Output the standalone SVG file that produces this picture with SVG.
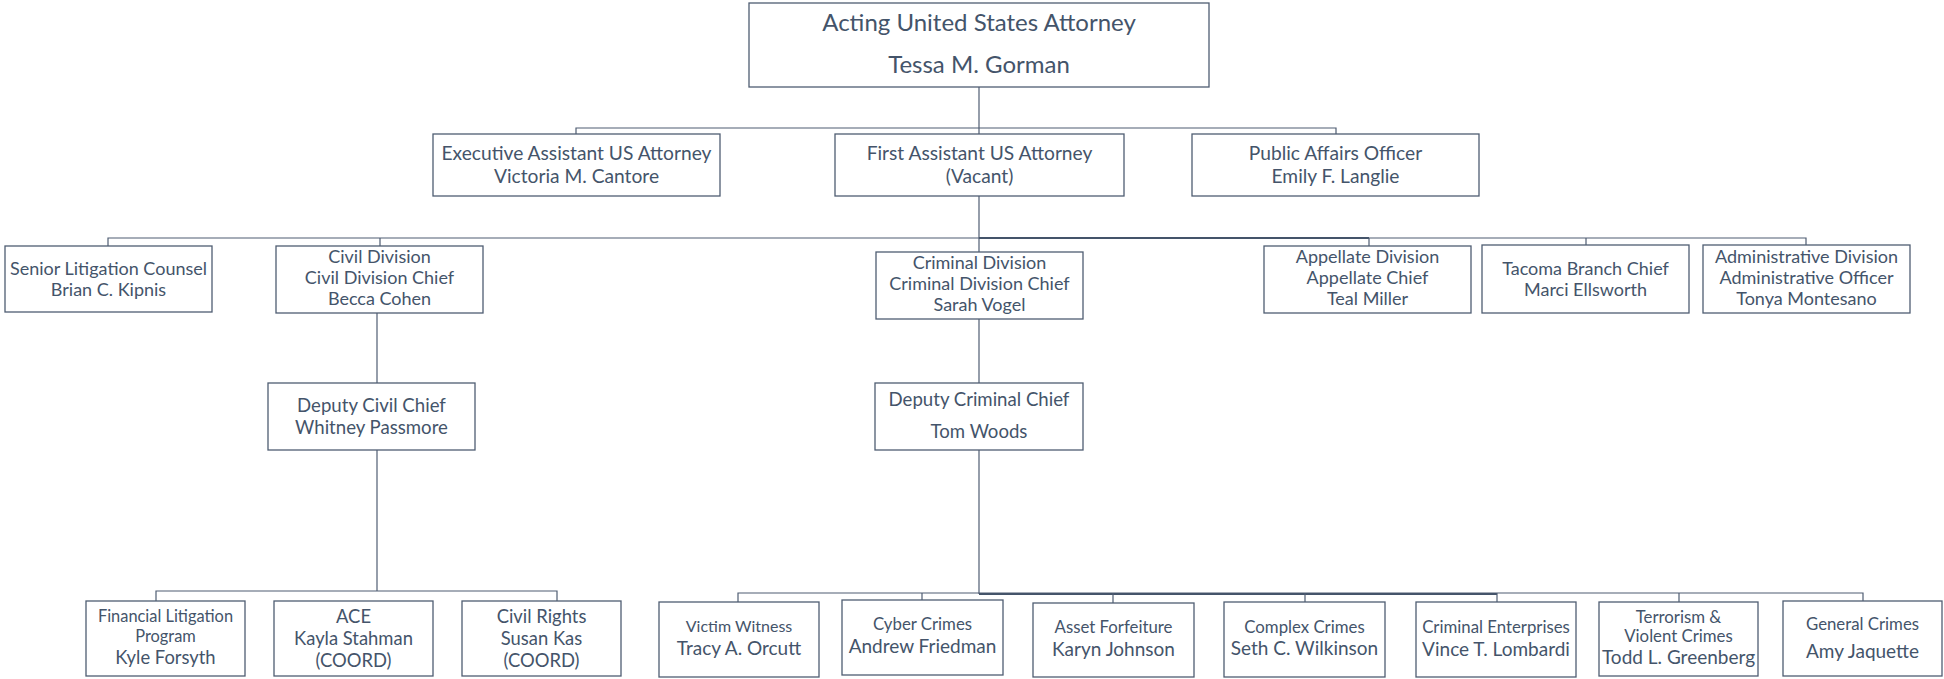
<svg xmlns="http://www.w3.org/2000/svg" width="1944" height="679" viewBox="0 0 1944 679">
<defs>
<style>
.box{fill:#ffffff;stroke:#4f5d72;stroke-width:1.3}
.t{font-family:Lato,"Liberation Sans",sans-serif;fill:#44546a;text-anchor:middle}
.s24{font-size:24px}
.s19{font-size:19.2px}
.s18{font-size:18px}
.sd{font-size:18.6px}
.st{font-size:16.8px}
.sn{font-size:19px}
.sc{font-size:18.4px}
.c{fill:none;stroke:#4f5d72;stroke-width:1.2}
.ck{fill:none;stroke:#44546a;stroke-width:2.2}
</style>
</defs>
<rect width="1944" height="679" fill="#ffffff"/>
<g id="connectors">
<path class="c" d="M979 87V134"/>
<path class="c" d="M576 134V128H1336V134"/>
<path class="c" d="M979 196V252"/>
<path class="c" d="M108 246V238H1806V245"/>
<path class="ck" d="M979 238H1369"/>
<path class="c" d="M380 238V246M1369 238V246M1586 238V245"/>
<path class="c" d="M377 313V383"/>
<path class="c" d="M979 319V383"/>
<path class="c" d="M377 450V591"/>
<path class="c" d="M156 601V591H557V601"/>
<path class="c" d="M979 450V594"/>
<path class="c" d="M738 602V593H1863V601"/>
<path class="ck" d="M979 594H1497"/>
<path class="c" d="M922 593V600M1113 593V603M1305 593V602M1497 593V602M1679 593V602"/>
</g>
<g id="n-usa"><rect class="box" x="749" y="3" width="460" height="84"/>
<text class="t s24" x="979" y="31">Acting United States Attorney</text>
<text class="t s24" x="979" y="73">Tessa M. Gorman</text></g>
<g id="n-exec"><rect class="box" x="433" y="134" width="287" height="62"/>
<text class="t s19" x="576.5" y="160">Executive Assistant US Attorney</text>
<text class="t s19" x="576.5" y="183">Victoria M. Cantore</text></g>
<g id="n-first"><rect class="box" x="835" y="134" width="289" height="62"/>
<text class="t s19" x="979.5" y="160">First Assistant US Attorney</text>
<text class="t s19" x="979.5" y="183">(Vacant)</text></g>
<g id="n-public"><rect class="box" x="1192" y="134" width="287" height="62"/>
<text class="t s19" x="1335.5" y="160">Public Affairs Officer</text>
<text class="t s19" x="1335.5" y="183">Emily F. Langlie</text></g>
<g id="n-senior"><rect class="box" x="5" y="246" width="207" height="66"/>
<text class="t s18" x="108.5" y="275">Senior Litigation Counsel</text>
<text class="t s18" x="108.5" y="296">Brian C. Kipnis</text></g>
<g id="n-civil"><rect class="box" x="276" y="246" width="207" height="67"/>
<text class="t s18" x="379.5" y="263">Civil Division</text>
<text class="t s18" x="379.5" y="284">Civil Division Chief</text>
<text class="t s18" x="379.5" y="305">Becca Cohen</text></g>
<g id="n-criminal"><rect class="box" x="876" y="252" width="207" height="67"/>
<text class="t s18" x="979.5" y="269">Criminal Division</text>
<text class="t s18" x="979.5" y="290">Criminal Division Chief</text>
<text class="t s18" x="979.5" y="311">Sarah Vogel</text></g>
<g id="n-appellate"><rect class="box" x="1264" y="246" width="207" height="67"/>
<text class="t s18" x="1367.5" y="263">Appellate Division</text>
<text class="t s18" x="1367.5" y="284">Appellate Chief</text>
<text class="t s18" x="1367.5" y="305">Teal Miller</text></g>
<g id="n-tacoma"><rect class="box" x="1482" y="245" width="207" height="68"/>
<text class="t s18" x="1585.5" y="275">Tacoma Branch Chief</text>
<text class="t s18" x="1585.5" y="296">Marci Ellsworth</text></g>
<g id="n-admin"><rect class="box" x="1703" y="245" width="207" height="68"/>
<text class="t s18" x="1806.5" y="263">Administrative Division</text>
<text class="t s18" x="1806.5" y="284">Administrative Officer</text>
<text class="t s18" x="1806.5" y="305">Tonya Montesano</text></g>
<g id="n-depcivil"><rect class="box" x="268" y="383" width="207" height="67"/>
<text class="t sd" x="371.5" y="412">Deputy Civil Chief</text>
<text class="t sd" x="371.5" y="434">Whitney Passmore</text></g>
<g id="n-depcrim"><rect class="box" x="875" y="383" width="208" height="67"/>
<text class="t sd" x="979" y="406">Deputy Criminal Chief</text>
<text class="t sd" x="979" y="438">Tom Woods</text></g>
<g id="n-flp"><rect class="box" x="86" y="601" width="159" height="75"/>
<text class="t" style="font-size:16.4px" x="165.5" y="622">Financial Litigation</text>
<text class="t" style="font-size:16.4px" x="165.5" y="642">Program</text>
<text class="t sc" x="165.5" y="664">Kyle Forsyth</text></g>
<g id="n-ace"><rect class="box" x="274" y="601" width="159" height="75"/>
<text class="t sc" x="353.5" y="623">ACE</text>
<text class="t sc" x="353.5" y="645">Kayla Stahman</text>
<text class="t sc" x="353.5" y="667">(COORD)</text></g>
<g id="n-civilrights"><rect class="box" x="462" y="601" width="159" height="75"/>
<text class="t sc" x="541.5" y="623">Civil Rights</text>
<text class="t sc" x="541.5" y="645">Susan Kas</text>
<text class="t sc" x="541.5" y="667">(COORD)</text></g>
<g id="n-victim"><rect class="box" x="659" y="602" width="160" height="75"/>
<text class="t" style="font-size:16px" x="739" y="632">Victim Witness</text>
<text class="t sn" x="739" y="655">Tracy A. Orcutt</text></g>
<g id="n-cyber"><rect class="box" x="842" y="600" width="161" height="75"/>
<text class="t st" x="922.5" y="630">Cyber Crimes</text>
<text class="t sn" x="922.5" y="653">Andrew Friedman</text></g>
<g id="n-asset"><rect class="box" x="1033" y="603" width="161" height="74"/>
<text class="t st" x="1113.5" y="633">Asset Forfeiture</text>
<text class="t sn" x="1113.5" y="656">Karyn Johnson</text></g>
<g id="n-complex"><rect class="box" x="1224" y="602" width="161" height="75"/>
<text class="t st" x="1304.5" y="633">Complex Crimes</text>
<text class="t sn" x="1304.5" y="655">Seth C. Wilkinson</text></g>
<g id="n-enterprises"><rect class="box" x="1416" y="602" width="160" height="75"/>
<text class="t st" x="1496" y="633">Criminal Enterprises</text>
<text class="t sn" x="1496" y="656">Vince T. Lombardi</text></g>
<g id="n-terrorism"><rect class="box" x="1599" y="602" width="159" height="74"/>
<text class="t st" x="1678.5" y="623">Terrorism &amp;</text>
<text class="t st" x="1678.5" y="642">Violent Crimes</text>
<text class="t sn" x="1678.5" y="664">Todd L. Greenberg</text></g>
<g id="n-general"><rect class="box" x="1783" y="601" width="159" height="75"/>
<text class="t st" x="1862.5" y="630">General Crimes</text>
<text class="t sn" x="1862.5" y="658">Amy Jaquette</text></g>
</svg>
